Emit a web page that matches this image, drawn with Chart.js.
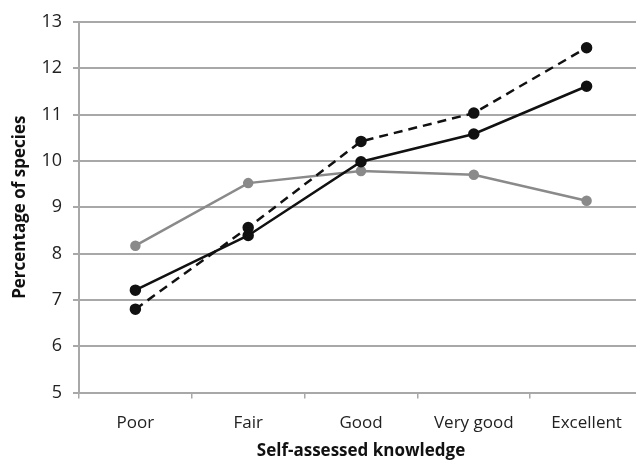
<!DOCTYPE html>
<html>
<head>
<meta charset="utf-8">
<script src="https://cdn.jsdelivr.net/npm/chart.js@4.4.0/dist/chart.umd.min.js"></script>
<style>
html,body{margin:0;padding:0;background:#fff;overflow:hidden;}
#wrap{width:636px;height:460px;overflow:hidden;position:relative;}
#box{width:650px;height:460px;position:absolute;left:0;top:0;}
</style>
</head>
<body>
<div id="wrap"><div id="box"><canvas id="c"></canvas></div></div>
<script>
const categories = ["Poor", "Fair", "Good", "Very good", "Excellent"];
const solidSeries = [7.21, 8.39, 9.98, 10.58, 11.61];
const dashedSeries = [6.80, 8.56, 10.42, 11.03, 12.44];
const graySeries = [8.17, 9.52, 9.78, 9.70, 9.14];
const yTicks = [5, 6, 7, 8, 9, 10, 11, 12, 13];
const xTitle = "Self-assessed knowledge";
const yTitle = "Percentage of species";

const font = "'Open Sans', sans-serif";
new Chart(document.getElementById('c'), {
  type: 'line',
  data: {
    labels: categories,
    datasets: [
      {data: solidSeries, borderColor: '#111', backgroundColor: '#111', borderWidth: 2.5, pointRadius: 4.5, pointHoverRadius: 4.5, tension: 0, fill: false},
      {data: dashedSeries, borderColor: '#111', backgroundColor: '#111', borderWidth: 2.5, borderDash: [9, 6], pointRadius: 4.5, pointHoverRadius: 4.5, tension: 0, fill: false},
      {data: graySeries, borderColor: '#8a8a8a', backgroundColor: '#8a8a8a', borderWidth: 2.5, pointRadius: 4, pointHoverRadius: 4, tension: 0, fill: false}
    ]
  },
  options: {
    responsive: true,
    maintainAspectRatio: false,
    animation: false,
    layout: {padding: {top: 4, right: 4, bottom: 0, left: 10}},
    plugins: {legend: {display: false}, tooltip: {enabled: false}},
    scales: {
      x: {
        offset: true,
        grid: {display: true, drawOnChartArea: false, drawTicks: true, tickLength: 6, offset: true, color: '#a8a8a8', lineWidth: 1.5},
        border: {display: true, color: '#a8a8a8', width: 2},
        ticks: {color: '#222', font: {family: font, size: 17}, padding: 14},
        title: {display: true, text: xTitle, color: '#111', font: {family: font, size: 17, weight: 'bold', lineHeight: 1}, padding: {top: -4, bottom: 0}}
      },
      y: {
        min: 5, max: 13,
        afterBuildTicks: s => { s.ticks = yTicks.map(v => ({value: v})); },
        grid: {color: '#a8a8a8', lineWidth: 2, tickLength: 6, drawTicks: true},
        border: {display: true, color: '#a8a8a8', width: 2},
        ticks: {color: '#222', font: {family: font, size: 18}, padding: 11},
        title: {display: true, text: yTitle, color: '#111', font: {family: font, size: 17, weight: 'bold'}, padding: {top: 0, bottom: 0}}
      }
    }
  }
});
</script>
</body>
</html>
